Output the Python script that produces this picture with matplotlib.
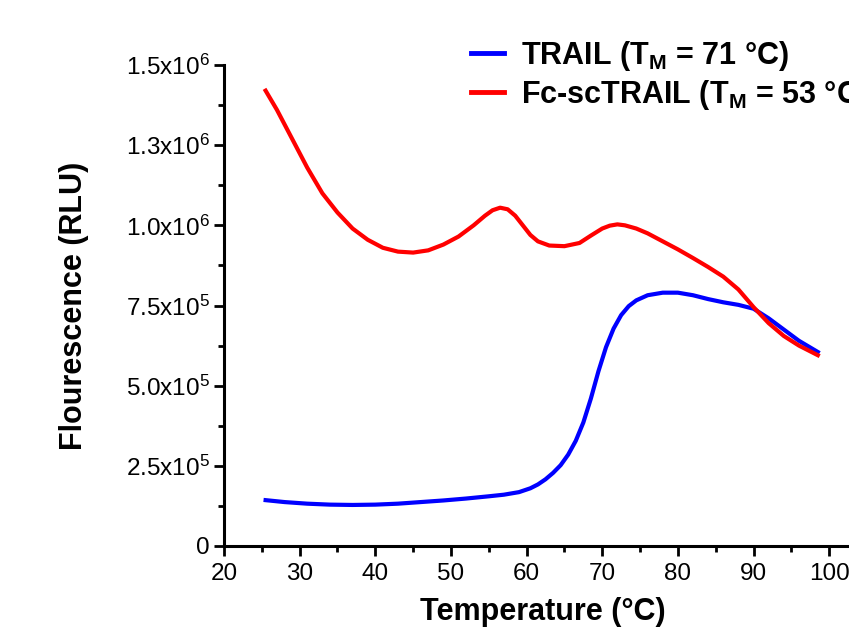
import matplotlib
matplotlib.use("Agg")
import matplotlib.pyplot as plt
from matplotlib.ticker import MultipleLocator, FixedLocator

plt.rcParams['font.family'] = ['Liberation Sans', 'DejaVu Sans']
plt.rcParams['mathtext.default'] = 'regular'

# readings from the melt curves (temperature in C, fluorescence in RLU)
temp_trail = [25.5, 28, 31, 34, 37, 40, 43, 46, 49, 52, 55, 57, 59, 60.5, 61.5,
              62.5, 63.5, 64.5, 65.5, 66.5, 67.5, 68.5, 69.5, 70.5, 71.5, 72.5,
              73.5, 74.5, 76, 78, 80, 82, 84, 86, 88, 90, 92, 94, 96, 98.5]
rlu_trail = [0.143, 0.137, 0.132, 0.129, 0.128, 0.129, 0.132, 0.137, 0.142, 0.148,
             0.155, 0.160, 0.168, 0.180, 0.192, 0.208, 0.228, 0.252, 0.285, 0.328,
             0.385, 0.46, 0.545, 0.62, 0.678, 0.72, 0.748, 0.766, 0.782, 0.79,
             0.79, 0.782, 0.77, 0.76, 0.752, 0.74, 0.71, 0.675, 0.64, 0.605]

temp_fc = [25.5, 27, 29, 31, 33, 35, 37, 39, 41, 43, 45, 47, 49, 51, 53, 54.5,
           55.5, 56.5, 57.5, 58.5, 59.5, 60.5, 61.5, 63, 65, 67, 68.5, 70, 71,
           72, 73, 74.5, 76, 78, 80, 82, 84, 86, 88, 90, 92, 94, 96, 98.5]
rlu_fc = [1.42, 1.36, 1.27, 1.18, 1.10, 1.04, 0.99, 0.955, 0.93, 0.918, 0.915,
          0.922, 0.94, 0.965, 1.00, 1.03, 1.047, 1.055, 1.05, 1.03, 1.00, 0.97,
          0.95, 0.937, 0.935, 0.945, 0.968, 0.99, 0.999, 1.003, 1.0, 0.99, 0.975,
          0.95, 0.925, 0.898, 0.87, 0.84, 0.80, 0.745, 0.695, 0.655, 0.625, 0.595]

labels = ['TRAIL (T$_M$ = 71 °C)', 'Fc-scTRAIL (T$_M$ = 53 °C)']
ytick_vals = [0, 2.5e5, 5.0e5, 7.5e5, 1.0e6, 1.25e6, 1.5e6]
ytick_labels = ['0', '2.5x10$^5$', '5.0x10$^5$', '7.5x10$^5$', '1.0x10$^6$',
                '1.3x10$^6$', '1.5x10$^6$']

fig = plt.figure(figsize=(8.49, 6.31), dpi=100)
ax = fig.add_axes([224/849, 85/631, 643/849, 481/631])

ax.plot(temp_trail, [v*1e6 for v in rlu_trail], color='#0000ff', lw=3,
        label=labels[0], solid_joinstyle='round')
ax.plot(temp_fc, [v*1e6 for v in rlu_fc], color='#ff0000', lw=3,
        label=labels[1], solid_joinstyle='round')

ax.set_xlim(20, 105)
ax.set_ylim(0, 1.5e6)
ax.xaxis.set_major_locator(FixedLocator(range(20, 101, 10)))
ax.xaxis.set_minor_locator(MultipleLocator(5))
ax.yaxis.set_major_locator(FixedLocator(ytick_vals))
ax.set_yticklabels(ytick_labels)
ax.yaxis.set_minor_locator(MultipleLocator(1.25e5))

for s in ['top', 'right']:
    ax.spines[s].set_visible(False)
for s in ['left', 'bottom']:
    ax.spines[s].set_linewidth(2.2)
ax.tick_params(which='major', length=7, width=2, labelsize=17.5, direction='out')
ax.tick_params(which='minor', length=4, width=2, direction='out')
ax.tick_params(axis='y', pad=3)
ax.tick_params(axis='x', pad=5)

ax.set_xlabel('Temperature (°C)', fontsize=22, fontweight='bold')
ax.set_ylabel('Flourescence (RLU)', fontsize=22, fontweight='bold')
ax.xaxis.set_label_coords(0.496, -0.106)
ax.yaxis.set_label_coords(-0.21, 0.5)

# legend runs off the right edge, as in the original figure
leg = ax.legend(loc='upper left', bbox_to_anchor=(471/849, 1 - 39/631),
                bbox_transform=fig.transFigure, frameon=False, borderpad=0,
                borderaxespad=0, handlelength=1.08, handletextpad=0.55,
                labelspacing=0.15, prop={'size': 22, 'weight': 'bold'})
for line in leg.get_lines():
    line.set_linewidth(3.5)

fig.savefig('out.png', dpi=100)
